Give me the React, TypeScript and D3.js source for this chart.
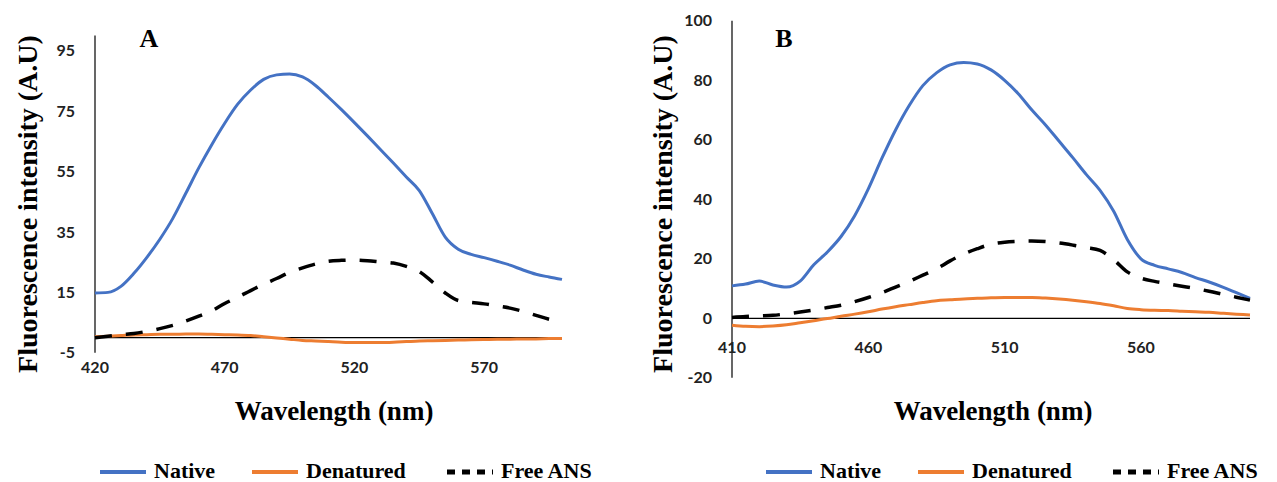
import React, { useEffect, useRef } from 'react';
import * as d3 from 'd3';

// wavelengths (nm) and intensities
const wavelengthA = [420, 425, 430, 435, 440, 445, 450, 455, 460, 465, 470, 475, 480, 485, 490, 495, 500, 505, 510, 515, 520, 525, 530, 535, 540, 545, 550, 555, 560, 565, 570, 575, 580, 585, 590, 595, 600];
const nativeA = [14.8, 15.0, 17.0, 21.3, 26.6, 32.6, 39.5, 47.8, 56.2, 63.9, 71, 77.3, 82, 85.5, 87, 87.3, 86.3, 83.5, 79.6, 75.5, 71.2, 66.8, 62.3, 57.8, 53.2, 48.7, 41.1, 33.3, 29.3, 27.6, 26.5, 25.3, 24.0, 22.4, 21.0, 20.1, 19.3];
const denaturedA = [0.3, 0.5, 0.7, 0.9, 1.0, 1.1, 1.1, 1.2, 1.2, 1.1, 1.0, 0.9, 0.7, 0.3, -0.1, -0.5, -0.9, -1.1, -1.3, -1.5, -1.6, -1.6, -1.6, -1.5, -1.3, -1.1, -1.0, -0.9, -0.8, -0.7, -0.6, -0.5, -0.5, -0.4, -0.4, -0.3, -0.3];
const freeAnsA = [0.0, 0.5, 1.0, 1.4, 2.1, 3.0, 4.1, 5.5, 7.1, 8.9, 11.3, 13.4, 15.6, 17.7, 19.6, 21.6, 23.1, 24.4, 25.3, 25.6, 25.7, 25.5, 25.1, 24.7, 23.6, 21.9, 18.5, 14.8, 12.3, 11.7, 11.2, 10.5, 9.8, 8.7, 7.4, 6.1, 5.2];

const wavelengthB = [410, 415, 420, 425, 430, 435, 440, 445, 450, 455, 460, 465, 470, 475, 480, 485, 490, 495, 500, 505, 510, 515, 520, 525, 530, 535, 540, 545, 550, 555, 560, 565, 570, 575, 580, 585, 590, 595, 600];
const nativeB = [10.9, 11.5, 12.5, 11.2, 10.5, 12.5, 18.0, 22.3, 27.5, 34.5, 43.5, 53.8, 63.3, 71.5, 78.2, 82.5, 85.2, 86.0, 85.5, 83.5, 80.0, 75.5, 70.0, 65.0, 59.5, 54.0, 48.3, 43.0, 36.0, 26.5, 20.0, 17.8, 16.6, 15.4, 13.7, 12.2, 10.5, 8.6, 6.7];
const denaturedB = [-2.3, -2.7, -2.8, -2.6, -2.2, -1.5, -0.8, -0.1, 0.7, 1.4, 2.2, 3.1, 3.9, 4.6, 5.3, 5.9, 6.2, 6.5, 6.7, 6.9, 7.0, 7.0, 7.0, 6.8, 6.5, 6.1, 5.6, 5.0, 4.2, 3.3, 2.9, 2.7, 2.6, 2.4, 2.2, 2.0, 1.7, 1.4, 1.1];
const freeAnsB = [0.3, 0.6, 0.8, 1.0, 1.5, 2.1, 2.8, 3.6, 4.4, 5.6, 7.0, 8.6, 10.5, 12.4, 14.5, 16.6, 19.3, 21.6, 23.4, 24.9, 25.6, 25.9, 26.0, 25.8, 25.3, 24.6, 23.8, 22.8, 19.7, 15.6, 13.5, 12.4, 11.6, 10.8, 10.0, 9.1, 8.1, 7.1, 6.1];

const yTicksA = [-5, 15, 35, 55, 75, 95];
const xTicksA = [420, 470, 520, 570];
const yTicksB = [-20, 0, 20, 40, 60, 80, 100];
const xTicksB = [410, 460, 510, 560];

const seriesNames = ['Native', 'Denatured', 'Free ANS'];
const seriesColors = ['#4472C4', '#ED7D31', '#000000'];

const SERIF = '"Liberation Serif", "Times New Roman", serif';
const SANS = 'Lato, "Open Sans", sans-serif';

const panels = [
  {
    letter: 'A', wl: wavelengthA, series: [nativeA, denaturedA, freeAnsA],
    xDomain: [420, 600], xRange: [95, 562], yDomain: [-5, 100], yRange: [352.8, 35.6],
    xTicks: xTicksA, yTicks: yTicksA, xLabelY: 367, yTitleX: 27, xTitleX: 334,
    letterX: 149, legendX: 100,
  },
  {
    letter: 'B', wl: wavelengthB, series: [nativeB, denaturedB, freeAnsB],
    xDomain: [410, 600], xRange: [732, 1250], yDomain: [-20, 100], yRange: [377.8, 20.8],
    xTicks: xTicksB, yTicks: yTicksB, xLabelY: 347, yTitleX: 662, xTitleX: 993,
    letterX: 784, legendX: 766,
  },
];

export default function App() {
  const node = useRef<SVGSVGElement | null>(null);

  useEffect(() => {
    const svg = d3.select(node.current);
    svg.selectAll('*').remove();

    panels.forEach(p => {
      const x = d3.scaleLinear().domain(p.xDomain).range(p.xRange);
      const y = d3.scaleLinear().domain(p.yDomain).range(p.yRange);
      const g = svg.append('g');

      // axes
      g.append('line')
        .attr('x1', x(p.xDomain[0])).attr('x2', x(p.xDomain[0]))
        .attr('y1', y(p.yDomain[0])).attr('y2', y(p.yDomain[1]))
        .attr('stroke', '#000').attr('stroke-width', 1.2);
      g.append('line')
        .attr('x1', x(p.xDomain[0])).attr('x2', x(p.xDomain[1]))
        .attr('y1', y(0)).attr('y2', y(0))
        .attr('stroke', '#000').attr('stroke-width', 1.2);

      g.selectAll('.ytick').data(p.yTicks).enter().append('text')
        .attr('x', x(p.xDomain[0]) - 20).attr('y', d => y(d))
        .attr('dy', '0.35em').attr('text-anchor', 'end')
        .style('font-family', SANS).style('font-weight', 700).style('font-size', '16px')
        .attr('fill', '#222')
        .text(d => d);

      g.selectAll('.xtick').data(p.xTicks).enter().append('text')
        .attr('x', d => x(d)).attr('y', p.xLabelY)
        .attr('dy', '0.35em').attr('text-anchor', 'middle')
        .style('font-family', SANS).style('font-weight', 700).style('font-size', '16px')
        .attr('fill', '#222')
        .text(d => d);

      // series
      const line = d3.line<number>()
        .x((d, i) => x(p.wl[i]))
        .y(d => y(d))
        .curve(d3.curveMonotoneX);

      p.series.forEach((s, k) => {
        g.append('path')
          .attr('d', line(s))
          .attr('fill', 'none')
          .attr('stroke', seriesColors[k])
          .attr('stroke-width', k == 2 ? 3.5 : 3)
          .attr('stroke-dasharray', k == 2 ? '17,14' : null)
          .attr('stroke-linejoin', 'round');
      });

      // titles
      g.append('text')
        .attr('transform', `translate(${p.yTitleX},204) rotate(-90)`)
        .attr('text-anchor', 'middle').attr('dy', '0.35em')
        .style('font-family', SERIF).style('font-weight', 700).style('font-size', '28px')
        .text('Fluorescence intensity (A.U)');
      g.append('text')
        .attr('x', p.xTitleX).attr('y', 420)
        .attr('text-anchor', 'middle')
        .style('font-family', SERIF).style('font-weight', 700).style('font-size', '27px')
        .text('Wavelength (nm)');
      g.append('text')
        .attr('x', p.letterX).attr('y', 47)
        .attr('text-anchor', 'middle')
        .style('font-family', SERIF).style('font-weight', 700).style('font-size', '26px')
        .text(p.letter);

      // legend
      const offsets = [0, 152, 347];
      seriesNames.forEach((name, k) => {
        const lx = p.legendX + offsets[k];
        g.append('line')
          .attr('x1', lx).attr('x2', lx + 46)
          .attr('y1', 472).attr('y2', 472)
          .attr('stroke', seriesColors[k]).attr('stroke-width', k == 2 ? 5 : 4)
          .attr('stroke-dasharray', k == 2 ? '8,7' : null);
        g.append('text')
          .attr('x', lx + 54).attr('y', 478)
          .style('font-family', SERIF).style('font-weight', 700).style('font-size', '22px')
          .text(name);
      });
    });
  }, []);

  return (
    <svg ref={node} width={1277} height={482}
      style={{ position: 'absolute', left: 0, top: 0, background: '#fff' }} />
  );
}
